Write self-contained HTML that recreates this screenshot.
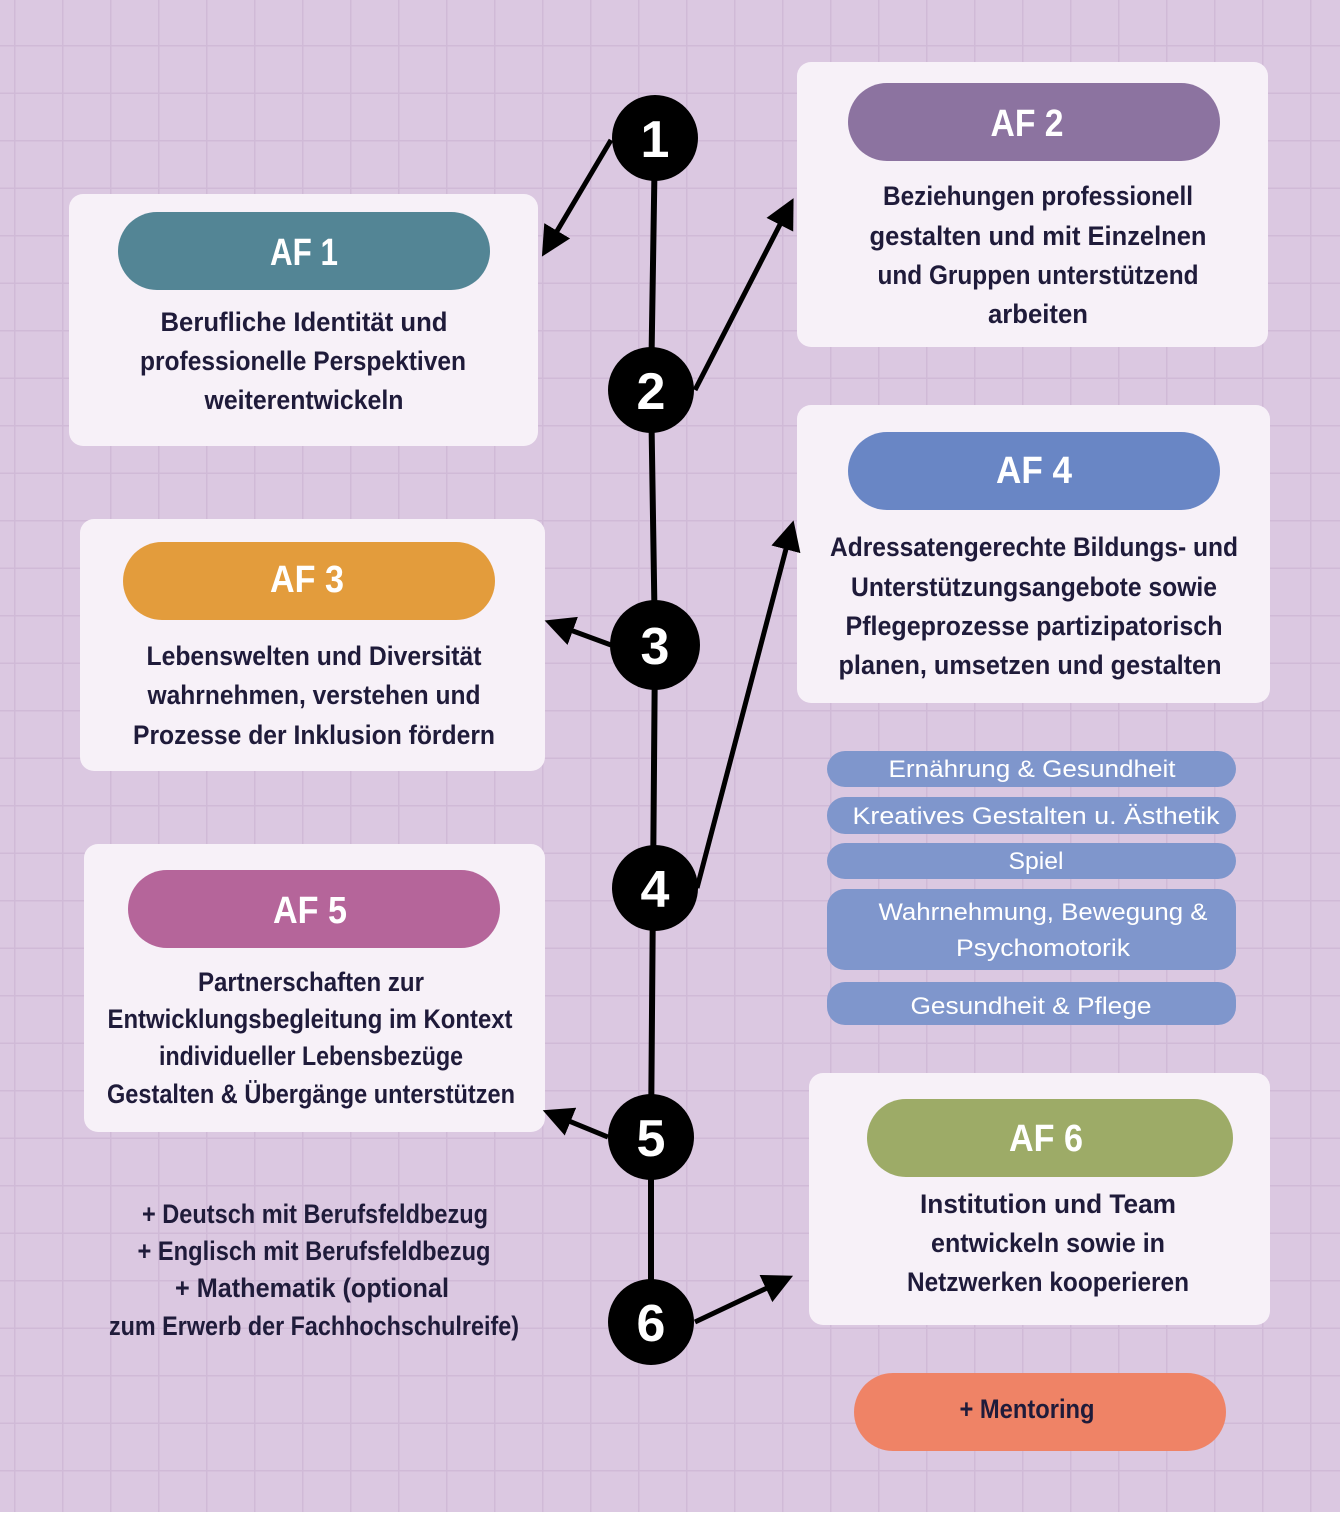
<!DOCTYPE html>
<html><head><meta charset="utf-8"><style>
body{margin:0}
svg text{font-family:"Liberation Sans",sans-serif}
.h{font-weight:bold;fill:#fff;font-size:38px}
.t{font-weight:bold;fill:#1f1b3a;font-size:27px}
.s{fill:#fff;font-size:24px}
.n{font-weight:bold;fill:#fff;font-size:52px}
</style></head><body>
<svg width="1340" height="1512" xmlns="http://www.w3.org/2000/svg">
<defs>
<pattern id="g" x="14" y="45" width="48" height="47.5" patternUnits="userSpaceOnUse">
<rect width="48" height="47.5" fill="#dbc8e1"/>
<path d="M0 0H48M0 0V48" stroke="#d0bad7" stroke-width="3"/>
</pattern>
<marker id="a" markerWidth="6" markerHeight="6" refX="4" refY="3" orient="auto" markerUnits="strokeWidth"><path d="M0,0 L6,3 L0,6 Z" fill="#000"/></marker>
</defs>
<rect width="1340" height="1512" fill="url(#g)"/>
<g fill="#f7f1f8">
<rect x="69" y="194" width="469" height="252" rx="14"/>
<rect x="797" y="62" width="471" height="285" rx="14"/>
<rect x="80" y="519" width="465" height="252" rx="14"/>
<rect x="797" y="405" width="473" height="298" rx="14"/>
<rect x="84" y="844" width="461" height="288" rx="14"/>
<rect x="809" y="1073" width="461" height="252" rx="14"/>
</g>
<rect x="118" y="212" width="372" height="78" rx="39" fill="#538595"/>
<rect x="848" y="83" width="372" height="78" rx="39" fill="#8c73a0"/>
<rect x="123" y="542" width="372" height="78" rx="39" fill="#e39c3c"/>
<rect x="848" y="432" width="372" height="78" rx="39" fill="#6986c5"/>
<rect x="128" y="870" width="372" height="78" rx="39" fill="#b5659a"/>
<rect x="867" y="1099" width="366" height="78" rx="39" fill="#9dab67"/>
<rect x="854" y="1373" width="372" height="78" rx="39" fill="#ef8366"/>
<g fill="#7f96cc">
<rect x="827" y="751" width="409" height="36" rx="18"/>
<rect x="827" y="797" width="409" height="37" rx="18"/>
<rect x="827" y="843" width="409" height="36" rx="18"/>
<rect x="827" y="889" width="409" height="81" rx="18"/>
<rect x="827" y="982" width="409" height="43" rx="18"/>
</g>
<g text-anchor="middle" lengthAdjust="spacingAndGlyphs">
<text class="h" x="304" y="265" textLength="68" lengthAdjust="spacingAndGlyphs">AF 1</text>
<text class="h" x="1027" y="136" textLength="73" lengthAdjust="spacingAndGlyphs">AF 2</text>
<text class="h" x="307" y="592" textLength="74" lengthAdjust="spacingAndGlyphs">AF 3</text>
<text class="h" x="1034" y="483" textLength="76" lengthAdjust="spacingAndGlyphs">AF 4</text>
<text class="h" x="310" y="923" textLength="74" lengthAdjust="spacingAndGlyphs">AF 5</text>
<text class="h" x="1046" y="1151" textLength="74" lengthAdjust="spacingAndGlyphs">AF 6</text>
<text class="t" x="304" y="331" textLength="287" lengthAdjust="spacingAndGlyphs">Berufliche Identität und</text>
<text class="t" x="303" y="370" textLength="326" lengthAdjust="spacingAndGlyphs">professionelle Perspektiven</text>
<text class="t" x="304" y="409" textLength="199" lengthAdjust="spacingAndGlyphs">weiterentwickeln</text>
<text class="t" x="1038" y="205" textLength="310" lengthAdjust="spacingAndGlyphs">Beziehungen professionell</text>
<text class="t" x="1038" y="245" textLength="337" lengthAdjust="spacingAndGlyphs">gestalten und mit Einzelnen</text>
<text class="t" x="1038" y="284" textLength="321" lengthAdjust="spacingAndGlyphs">und Gruppen unterstützend</text>
<text class="t" x="1038" y="323" textLength="100" lengthAdjust="spacingAndGlyphs">arbeiten</text>
<text class="t" x="314" y="665" textLength="335" lengthAdjust="spacingAndGlyphs">Lebenswelten und Diversität</text>
<text class="t" x="314" y="704" textLength="333" lengthAdjust="spacingAndGlyphs">wahrnehmen, verstehen und</text>
<text class="t" x="314" y="744" textLength="362" lengthAdjust="spacingAndGlyphs">Prozesse der Inklusion fördern</text>
<text class="t" x="1034" y="556" textLength="408" lengthAdjust="spacingAndGlyphs">Adressatengerechte Bildungs- und</text>
<text class="t" x="1034" y="596" textLength="366" lengthAdjust="spacingAndGlyphs">Unterstützungsangebote sowie</text>
<text class="t" x="1034" y="635" textLength="377" lengthAdjust="spacingAndGlyphs">Pflegeprozesse partizipatorisch</text>
<text class="t" x="1030" y="674" textLength="383" lengthAdjust="spacingAndGlyphs">planen, umsetzen und gestalten</text>
<text class="t" x="311" y="991" textLength="226" lengthAdjust="spacingAndGlyphs">Partnerschaften zur</text>
<text class="t" x="310" y="1028" textLength="405" lengthAdjust="spacingAndGlyphs">Entwicklungsbegleitung im Kontext</text>
<text class="t" x="311" y="1065" textLength="304" lengthAdjust="spacingAndGlyphs">individueller Lebensbezüge</text>
<text class="t" x="311" y="1103" textLength="408" lengthAdjust="spacingAndGlyphs">Gestalten &amp; Übergänge unterstützen</text>
<text class="t" x="1048" y="1213" textLength="256" lengthAdjust="spacingAndGlyphs">Institution und Team</text>
<text class="t" x="1048" y="1252" textLength="234" lengthAdjust="spacingAndGlyphs">entwickeln sowie in</text>
<text class="t" x="1048" y="1291" textLength="282" lengthAdjust="spacingAndGlyphs">Netzwerken kooperieren</text>
<text class="t" x="315" y="1223" textLength="346" lengthAdjust="spacingAndGlyphs">+ Deutsch mit Berufsfeldbezug</text>
<text class="t" x="314" y="1260" textLength="353" lengthAdjust="spacingAndGlyphs">+ Englisch mit Berufsfeldbezug</text>
<text class="t" x="312" y="1297" textLength="274" lengthAdjust="spacingAndGlyphs">+ Mathematik (optional</text>
<text class="t" x="314" y="1335" textLength="410" lengthAdjust="spacingAndGlyphs">zum Erwerb der Fachhochschulreife)</text>
<text class="t" x="1027" y="1418" textLength="135" lengthAdjust="spacingAndGlyphs">+ Mentoring</text>
<text class="s" x="1032" y="777" textLength="287" lengthAdjust="spacingAndGlyphs">Ernährung &amp; Gesundheit</text>
<text class="s" x="1036" y="824" textLength="367" lengthAdjust="spacingAndGlyphs">Kreatives Gestalten u. Ästhetik</text>
<text class="s" x="1036" y="869" textLength="55" lengthAdjust="spacingAndGlyphs">Spiel</text>
<text class="s" x="1043" y="920" textLength="329" lengthAdjust="spacingAndGlyphs">Wahrnehmung, Bewegung &amp;</text>
<text class="s" x="1043" y="956" textLength="174" lengthAdjust="spacingAndGlyphs">Psychomotorik</text>
<text class="s" x="1031" y="1014" textLength="241" lengthAdjust="spacingAndGlyphs">Gesundheit &amp; Pflege</text>
</g>
<path d="M655 138 L651 390 L655 645 L653 888 L651 1137 L651 1322" stroke="#000" stroke-width="6" fill="none"/>
<g stroke="#000" stroke-width="5" fill="none" marker-end="url(#a)">
<line x1="611" y1="140" x2="547" y2="248"/>
<line x1="695" y1="390" x2="789" y2="207"/>
<line x1="611" y1="645" x2="554" y2="624"/>
<line x1="697" y1="888" x2="791" y2="530"/>
<line x1="608" y1="1137" x2="552" y2="1114"/>
<line x1="695" y1="1322" x2="784" y2="1280"/>
</g>
<g fill="#000">
<circle cx="655" cy="138" r="43"/><circle cx="651" cy="390" r="43"/>
<circle cx="655" cy="645" r="45"/><circle cx="655" cy="888" r="43"/>
<circle cx="651" cy="1137" r="43"/><circle cx="651" cy="1322" r="43"/>
</g>
<g text-anchor="middle">
<text class="n" x="655" y="157">1</text><text class="n" x="651" y="409">2</text>
<text class="n" x="655" y="664">3</text><text class="n" x="655" y="907">4</text>
<text class="n" x="651" y="1156">5</text><text class="n" x="651" y="1341">6</text>
</g>
</svg>
</body></html>
